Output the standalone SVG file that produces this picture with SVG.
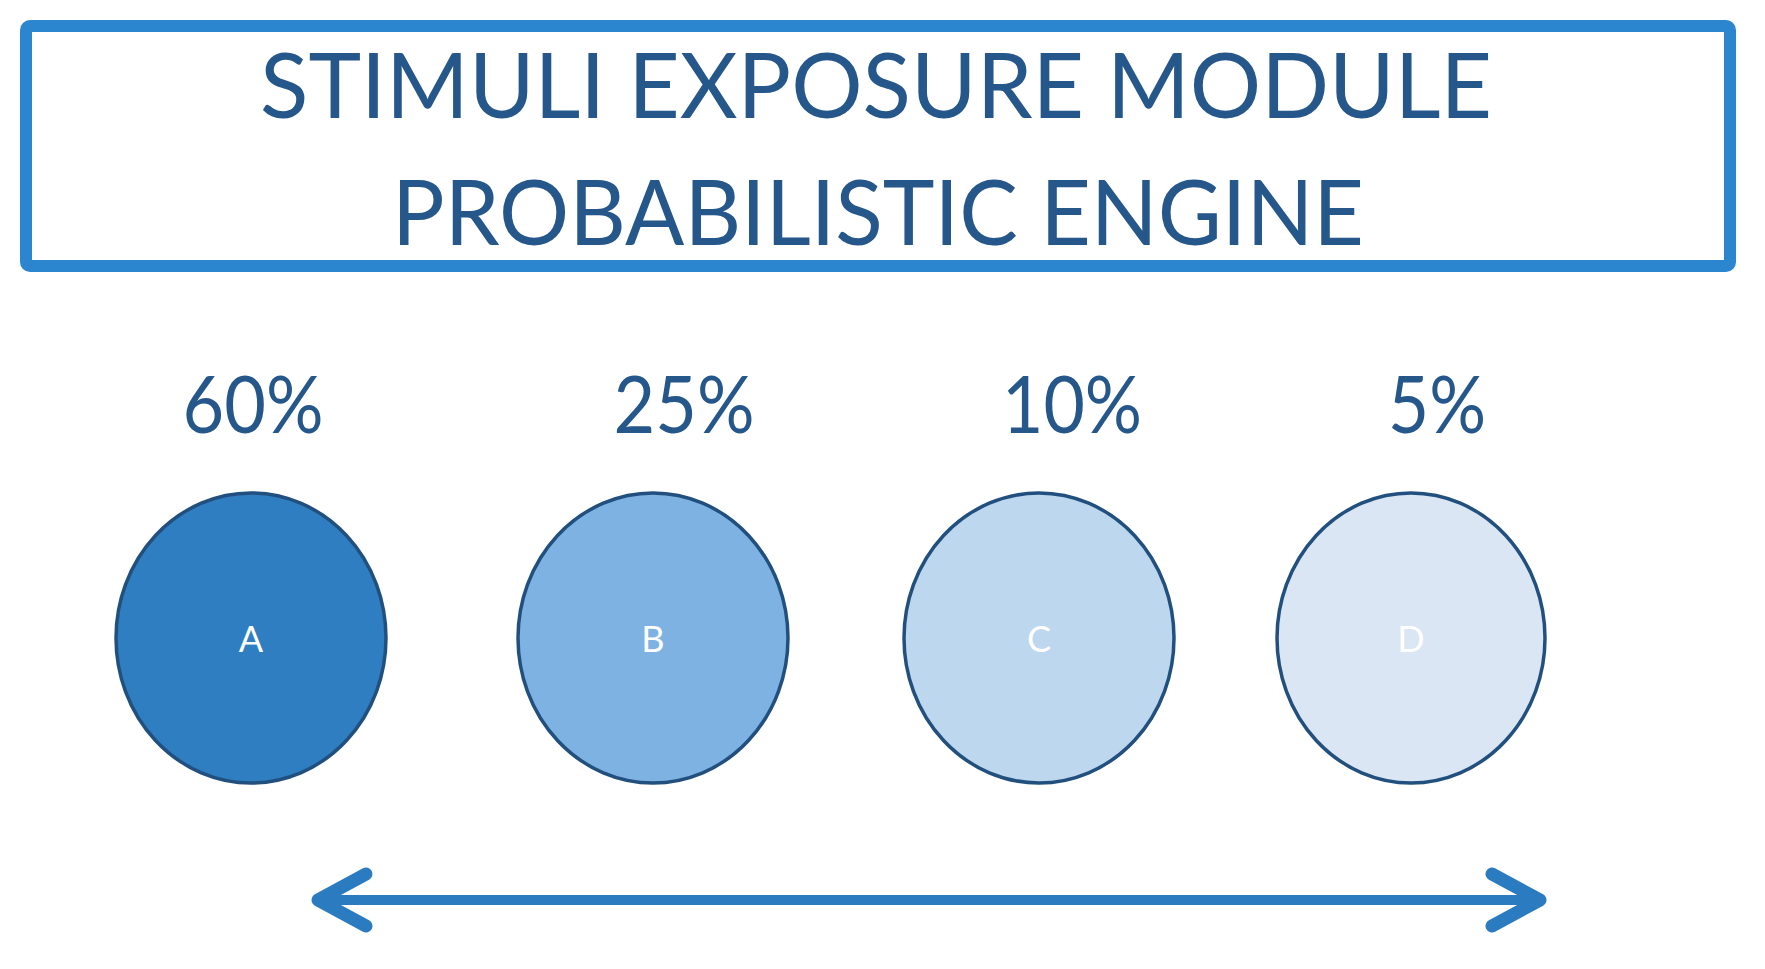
<svg xmlns="http://www.w3.org/2000/svg" width="1765" height="969" viewBox="0 0 1765 969">
<style>
.title{font-family:Lato,"Open Sans","Liberation Sans",sans-serif;font-size:92px;fill:#25578A;text-anchor:middle}
.pct{font-family:Lato,"Open Sans","Liberation Sans",sans-serif;font-size:80px;fill:#25578A;text-anchor:middle}
.lbl{font-family:Lato,"Open Sans","Liberation Sans",sans-serif;font-size:36px;fill:#FFFFFF;text-anchor:middle}
.node{stroke:#22507E;stroke-width:3.5}
.conn{fill:none;stroke:#2B7BC0;stroke-width:10;stroke-linecap:round;stroke-linejoin:round}
.head{fill:none;stroke:#2B7BC0;stroke-width:13;stroke-linecap:round;stroke-linejoin:round}
</style>
<rect width="1765" height="969" fill="#FFFFFF"/>
<g id="title-box">
<rect x="26" y="26" width="1704" height="240" rx="4" fill="none" stroke="#2C86CF" stroke-width="12"/>
<text class="title" x="876" y="118" textLength="1232" lengthAdjust="spacingAndGlyphs">STIMULI EXPOSURE MODULE</text>
<text class="title" x="878" y="245" textLength="972" lengthAdjust="spacingAndGlyphs">PROBABILISTIC ENGINE</text>
</g>
<g id="node-A">
<text class="pct" x="253" y="433" textLength="141" lengthAdjust="spacingAndGlyphs">60%</text>
<ellipse class="node" cx="251" cy="638" rx="135" ry="145" fill="#2E7EC1"/>
<text class="lbl" x="251" y="652">A</text>
</g>
<g id="node-B">
<text class="pct" x="684" y="433" textLength="141" lengthAdjust="spacingAndGlyphs">25%</text>
<ellipse class="node" cx="653" cy="638" rx="135" ry="145" fill="#7EB2E2"/>
<text class="lbl" x="653" y="652">B</text>
</g>
<g id="node-C">
<text class="pct" x="1072" y="433" textLength="140" lengthAdjust="spacingAndGlyphs">10%</text>
<ellipse class="node" cx="1039" cy="638" rx="135" ry="145" fill="#BDD7EE"/>
<text class="lbl" x="1039" y="652">C</text>
</g>
<g id="node-D">
<text class="pct" x="1437" y="433" textLength="98" lengthAdjust="spacingAndGlyphs">5%</text>
<ellipse class="node" cx="1411" cy="638" rx="134" ry="145" fill="#DAE6F3"/>
<text class="lbl" x="1411" y="652">D</text>
</g>
<g id="connectors">
<line class="conn" x1="318" y1="900" x2="1540" y2="900"/>
<polyline class="head" points="366,874 318,900 366,926"/>
<polyline class="head" points="1492,874 1540,900 1492,926"/>
</g>
</svg>
